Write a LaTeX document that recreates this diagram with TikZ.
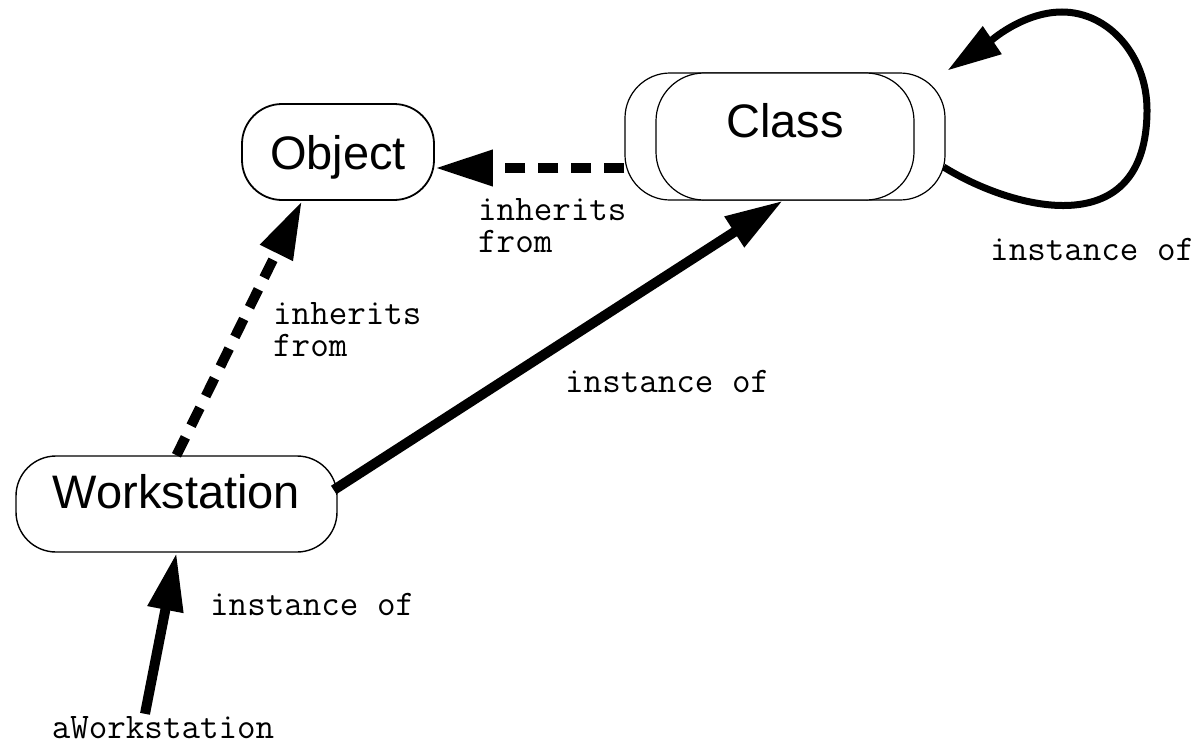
\documentclass[tikz,border=0pt]{standalone}
\usepackage{fontspec}
\setmainfont{Liberation Sans}
\usetikzlibrary{arrows.meta}
\begin{document}
\begin{tikzpicture}[x=1pt,y=-1pt,
  box/.style={draw, fill=white, rectangle, inner sep=0pt,
    font=\fontsize{47}{50}\selectfont},
  lbl/.style={inner sep=0pt, anchor=base west, align=left,
    font=\ttfamily\fontsize{36}{32}\selectfont},
  link/.style={line width=10pt, -{Triangle[length=58pt,width=34pt]}},
  dlink/.style={link, dash pattern=on 20pt off 13pt},
  looplink/.style={line width=7pt, -{Triangle[length=54pt,width=32pt]}},
]
\useasboundingbox (0,0) rectangle (1201,744);
\fill[white] (0,0) rectangle (1201,744);

% class nodes: a wider frame behind the front one
\node[box, line width=1.2pt, minimum width=320pt, minimum height=127pt,
  rounded corners=45pt] (clsb) at (785,136.5) {};
\node[box, line width=1.2pt, minimum width=258pt, minimum height=127pt,
  rounded corners=48pt, text depth=33pt] (clsf) at (785,136.5) {Class};

\node[box, line width=1.8pt, minimum width=192pt, minimum height=96pt,
  rounded corners=40pt, text depth=0pt] (obj) at (338,152) {Object};
\node[box, line width=1.4pt, minimum width=321pt, minimum height=96pt,
  rounded corners=40pt, text depth=25pt] (ws) at (176.5,504) {Workstation};

\node[inner sep=2pt, anchor=base, font=\ttfamily\fontsize{36}{32}\selectfont]
  (aws) at (163,738) {aWorkstation};

% connectors
\draw[link] ([xshift=-18pt]aws.north) -- (ws.south);
\draw[link] ([shift={(-4,-14)}]ws.east) -- ([shift={(-2,0)}]clsf.south);
\draw[dlink] (ws.north) -- ([shift={(-36,0)}]obj.south);
\draw[dlink] ([shift={(0,31.5)}]clsb.west) -- ([shift={(0,16)}]obj.east);
\draw[looplink] ([shift={(-2,30.5)}]clsb.east)
  .. controls (1013,210) and (1147,245) .. (1147,110)
  .. controls (1147,56) and (1109,12) .. (1062,12)
  .. controls (1022,12) and (988,43) .. ([shift={(2,-2)}]clsb.north east);

% labels (a two-line label sits on the baseline of its last line)
\node[lbl] (l1) at (210,615) {instance of};
\node[lbl] (l2) at (565,392) {instance of};
\node[lbl] (l3) at (990,260) {instance of};
\node[lbl] (l4) at (478,252) {inherits\\from};
\node[lbl] (l5) at (273,356) {inherits\\from};
\end{tikzpicture}
\end{document}
